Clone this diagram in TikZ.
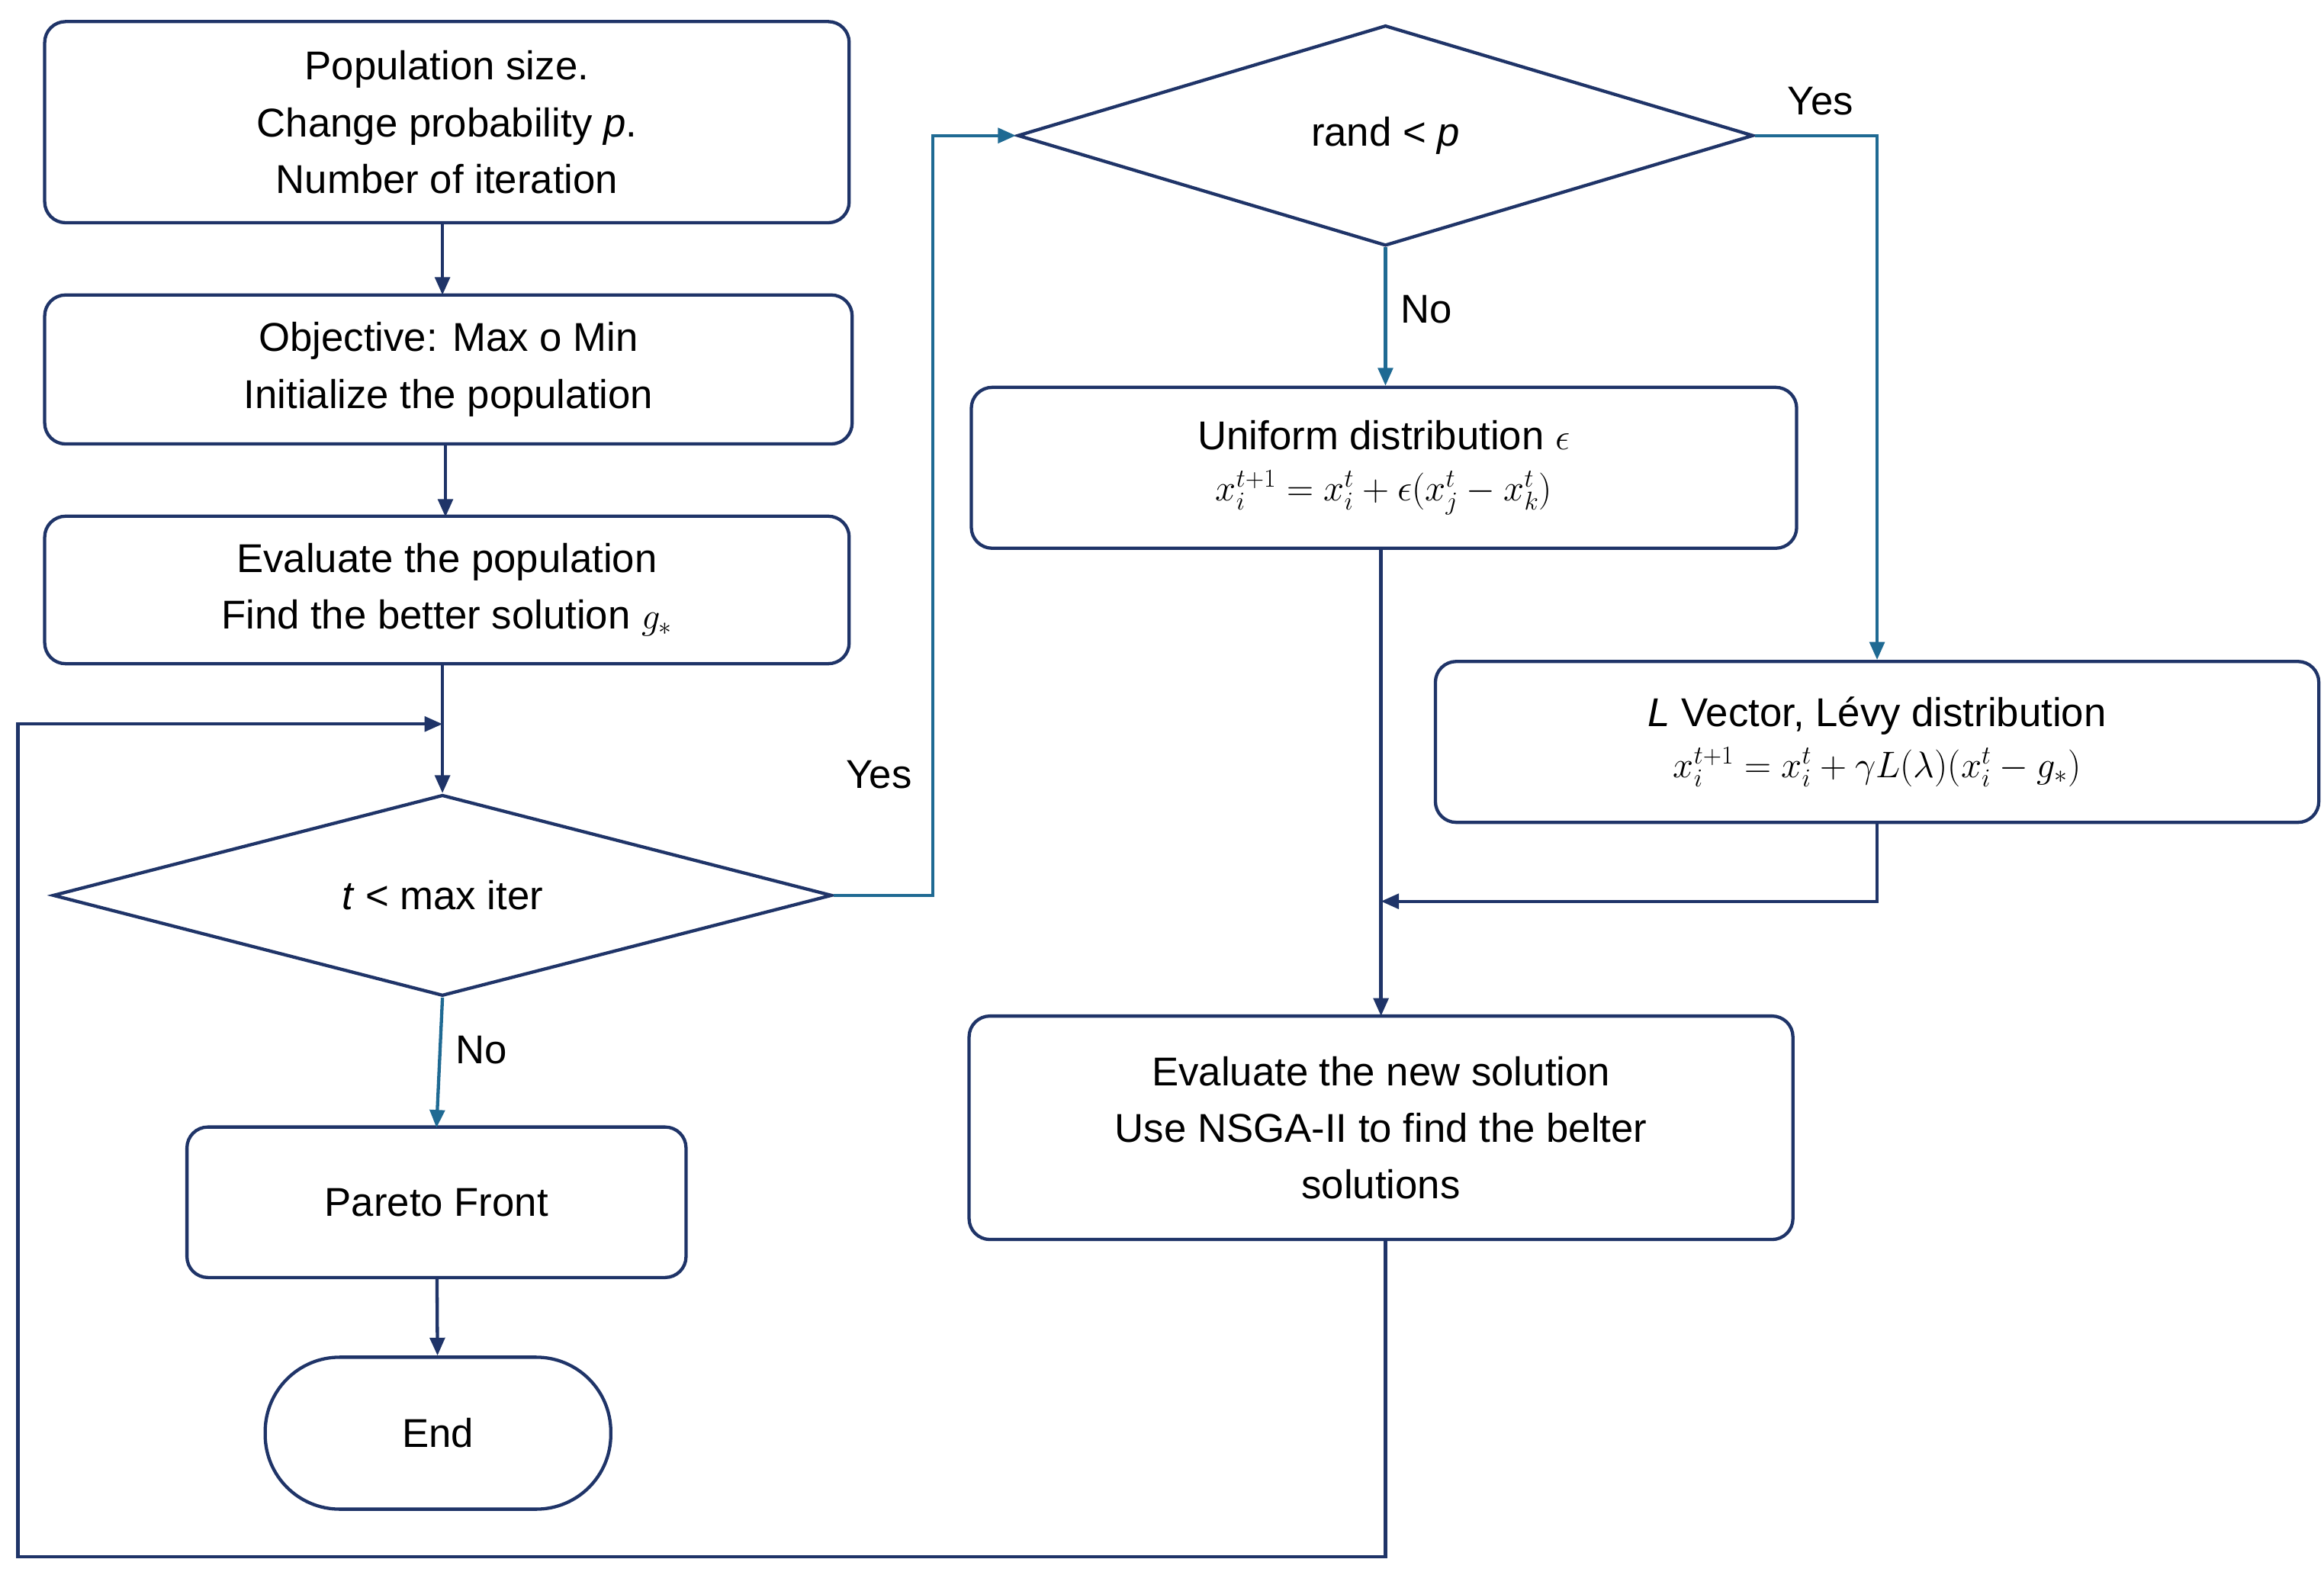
\documentclass[tikz,border=0pt]{standalone}
\usepackage{fontspec}
\setmainfont{Liberation Sans}
\usetikzlibrary{shapes.geometric,arrows.meta}
\definecolor{navy}{HTML}{1F3468}
\definecolor{teal}{HTML}{1F6A93}
\begin{document}
\begin{tikzpicture}[x=1pt,y=-1pt,
 box/.style={draw=navy,line width=2.2pt,rounded corners=14pt,align=center,inner sep=0pt},
 dia/.style={draw=navy,line width=2.2pt,diamond,inner sep=0pt,align=center},
 con/.style={navy,line width=2.2pt,-{Triangle[length=12pt,width=10pt]}},
 tcon/.style={teal,line width=2.2pt,-{Triangle[length=12pt,width=10pt]}},
 lab/.style={font=\fontsize{27}{34}\selectfont},
 every node/.append style={font=\fontsize{27}{38}\selectfont}]
\useasboundingbox (0,0) rectangle (1560,1055);
\node[box,minimum width=540pt,minimum height=135pt] (b1) at (300,82) {Population size.\\ Change probability \textit{p}.\\ Number of iteration};
\node[box,minimum width=542pt,minimum height=100pt] (b2) at (301,248) {Objective: Max o Min\\ Initialize the population};
\node[box,minimum width=540pt,minimum height=99pt] (b3) at (300,396) {Evaluate the population\\ Find the better solution $g_*$};
\node[dia,minimum width=523pt,minimum height=135pt,aspect=3.9] (d1) at (297,601) {};
\node at (297,601) {\textit{t} < max iter};
\node[box,minimum width=335pt,minimum height=101pt] (pf) at (293,807) {Pareto Front};
\node[box,rounded corners=50pt,minimum width=232pt,minimum height=102pt] (end) at (294,962) {End};
\node[dia,minimum width=494pt,minimum height=148pt,aspect=3.3] (d2) at (930,91) {};
\node at (930,91) {rand < \textit{p}};
\node[box,minimum width=554pt,minimum height=108pt] (uni) at (929,314) {Uniform distribution $\epsilon$\\[-4pt] $x_i^{t+1}=x_i^t+\epsilon(x_j^t-x_k^t)$};
\node[box,minimum width=593pt,minimum height=108pt] (lev) at (1260,498) {\textit{L} Vector, Lévy distribution\\[-4pt] $x_i^{t+1}=x_i^t+\gamma L(\lambda)(x_i^t-g_*)$};
\node[box,minimum width=553pt,minimum height=150pt] (ev) at (927,757) {Evaluate the new solution\\ Use NSGA-II to find the belter\\ solutions};
\coordinate (m1) at (297,486);
\draw[con] (b1.south -| 297,0) -- (297,198);
\draw[con] (b2.south -| 299,0) -- (299,347);
\draw[con] (297,446) -- (d1.north);
\draw[tcon] (d1.south) -- (293,757) node[pos=0.4,right=6pt,lab,black]{No};
\draw[con] (pf) -- (end);
\draw[tcon] (d1.east) -- (626,601) -- (626,91) -- (d2.west);
\node[lab] at (590,520) {Yes};
\draw[tcon] (d2.east) -- (1260,91) -- (lev.north);
\node[lab] at (1222,68) {Yes};
\draw[tcon] (d2.south) -- (uni.north -| d2.south) node[pos=0.45,right=6pt,lab,black]{No};
\draw[con] (927,368) -- (927,682);
\draw[con] (lev.south) -- (1260,605) -- (927,605);
\draw[con] (930,832) -- (930,1045) -- (12,1045) -- (12,486) -- (m1);
\end{tikzpicture}
\end{document}
